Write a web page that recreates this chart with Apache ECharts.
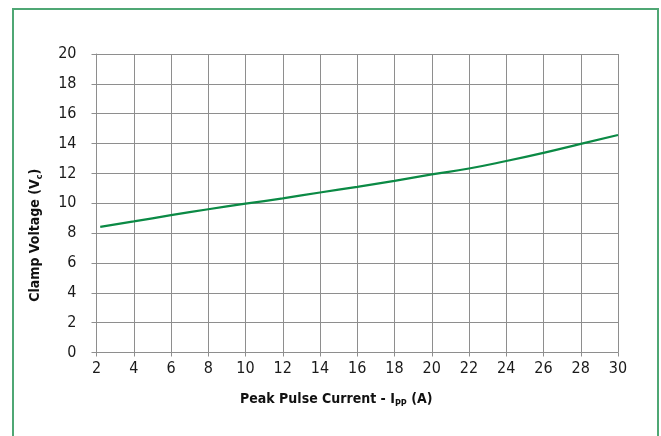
<!DOCTYPE html>
<html>
<head>
<meta charset="utf-8">
<script src="https://cdn.jsdelivr.net/npm/echarts@6/dist/echarts.min.js"></script>
<style>
  html, body { margin: 0; padding: 0; background: #fff; }
  #main { width: 661px; height: 436px; }
</style>
</head>
<body>
<div id="main"></div>
<script>
// 读图得到的数据
var current = [2.2, 4, 6, 8, 10, 12, 14, 16, 18, 20, 22, 24, 26, 28, 30];
var clampVoltage = [8.42, 8.78, 9.2, 9.6, 9.97, 10.33, 10.72, 11.1, 11.5, 11.93, 12.33, 12.83, 13.38, 13.98, 14.57];
var xTicks = [2, 4, 6, 8, 10, 12, 14, 16, 18, 20, 22, 24, 26, 28, 30];
var yTicks = [0, 2, 4, 6, 8, 10, 12, 14, 16, 18, 20];

var font = '"Liberation Sans Narrow", "DejaVu Sans Condensed", "Roboto", sans-serif';
var gridColor = '#8e8e8e';

var myChart = echarts.init(document.getElementById('main'));

var points = current.map(function (x, i) { return [x, clampVoltage[i]]; });

var option = {
    animation: false,
    backgroundColor: '#fff',
    grid: { left: 96.5, right: 43, top: 54, bottom: 83.5 },
    graphic: [{
        type: 'rect',
        shape: { x: 13, y: 9, width: 645, height: 460 },
        style: { fill: 'none', stroke: '#4fa774', lineWidth: 2 },
        silent: true
    }],
    xAxis: {
        type: 'value',
        min: xTicks[0],
        max: xTicks[xTicks.length - 1],
        interval: 2,
        name: 'Peak Pulse Current - I{sub|PP} (A)',
        nameLocation: 'middle',
        nameGap: 37,
        nameTextStyle: {
            fontFamily: font, fontWeight: 'bold', fontSize: 14, color: '#111',
            padding: [0, 42, 0, 0],
            rich: { sub: { fontFamily: font, fontWeight: 'bold', fontSize: 9, color: '#111', verticalAlign: 'bottom', padding: [10, 0, 0, 0] } }
        },
        axisLine: { show: true, lineStyle: { color: gridColor, width: 1 } },
        axisTick: { show: true, length: 4, lineStyle: { color: gridColor } },
        axisLabel: { fontFamily: font, fontSize: 16, color: '#1a1a1a', margin: 8 },
        splitLine: { show: true, lineStyle: { color: gridColor, width: 1 } }
    },
    yAxis: {
        type: 'value',
        min: yTicks[0],
        max: yTicks[yTicks.length - 1],
        interval: 2,
        name: 'Clamp Voltage (V{sub|c})',
        nameLocation: 'middle',
        nameGap: 52,
        nameTextStyle: {
            fontFamily: font, fontWeight: 'bold', fontSize: 14, color: '#111',
            padding: [0, 64, 0, 0],
            rich: { sub: { fontFamily: font, fontWeight: 'bold', fontSize: 9, color: '#111', verticalAlign: 'bottom', padding: [10, 0, 0, 0] } }
        },
        axisLine: { show: true, lineStyle: { color: gridColor, width: 1 } },
        axisTick: { show: true, length: 5, lineStyle: { color: gridColor } },
        axisLabel: { fontFamily: font, fontSize: 16, color: '#1a1a1a', margin: 20 },
        splitLine: { show: true, lineStyle: { color: gridColor, width: 1 } }
    },
    series: [{
        type: 'line',
        data: points,
        smooth: true,
        showSymbol: false,
        lineStyle: { color: '#0b8a45', width: 2.2 }
    }]
};

myChart.setOption(option);
</script>
</body>
</html>
